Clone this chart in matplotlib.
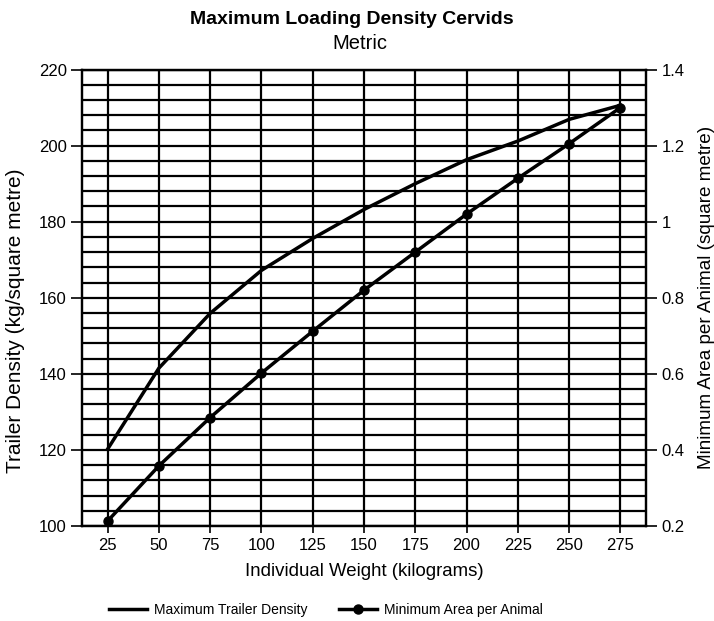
import matplotlib
matplotlib.use("Agg")
import matplotlib.pyplot as plt
from matplotlib.ticker import MultipleLocator

plt.rcParams['font.family'] = ['Liberation Sans', 'DejaVu Sans']

# data
weight = [25, 50, 75, 100, 125, 150, 175, 200, 225, 250, 275]
trailer_density = [120.2, 141.5, 155.9, 167.2, 175.6, 183.2, 190.0, 196.3, 201.2, 206.9, 210.6]
min_area = [0.213, 0.358, 0.485, 0.602, 0.712, 0.820, 0.920, 1.020, 1.114, 1.205, 1.300]
right_ticks = [0.2, 0.4, 0.6, 0.8, 1.0, 1.2, 1.4]
right_labels = ['0.2', '0.4', '0.6', '0.8', '1', '1.2', '1.4']

fig = plt.figure(figsize=(7.14, 6.21), dpi=100)
ax1 = fig.add_axes([0.1148, 0.153, 0.79, 0.735])
ax2 = ax1.twinx()

# GRID
ax1.set_xlim(12.5, 287.5)
ax1.set_ylim(100, 220)
ax2.set_ylim(0.2, 1.4)
ax1.set_xticks(weight)
ax1.yaxis.set_major_locator(MultipleLocator(20))
ax1.yaxis.set_minor_locator(MultipleLocator(4))
ax2.set_yticks(right_ticks)
ax2.set_yticklabels(right_labels)

ax1.grid(True, which='both', axis='y', color='black', linewidth=1.6)
ax1.grid(True, which='major', axis='x', color='black', linewidth=1.6)
ax1.set_axisbelow(True)

for ax in (ax1, ax2):
    for sp in ax.spines.values():
        sp.set_linewidth(1.6)
        sp.set_color('black')
ax1.tick_params(axis='y', which='major', length=8, width=1.2, labelsize=12, pad=3)
ax1.tick_params(axis='y', which='minor', length=0)
ax1.tick_params(axis='x', length=5, width=1.2, labelsize=12, pad=4)
ax2.tick_params(axis='y', length=8, width=1.2, labelsize=12, pad=3)

# LINES
l1, = ax1.plot(weight, trailer_density, color='black', linewidth=2.5,
               label='Maximum Trailer Density', zorder=5)
l2, = ax2.plot(weight, min_area, color='black', linewidth=2.5, marker='o',
               markersize=6.5, label='Minimum Area per Animal', zorder=5)

ax1.set_xlabel('Individual Weight (kilograms)', fontsize=13.4, labelpad=7)
ax1.set_ylabel('Trailer Density (kg/square metre)', fontsize=15)
ax1.yaxis.set_label_coords(-0.101, 0.45)
ax2.set_ylabel('Minimum Area per Animal (square metre)', fontsize=13.6,
               rotation=90, labelpad=10)

fig.text(0.4926, 0.9614, 'Maximum Loading Density Cervids', ha='center',
         va='baseline', fontsize=14, fontweight='bold')
fig.text(0.504, 0.9206, 'Metric', ha='center', va='baseline', fontsize=14.5)

fig.legend(handles=[l1, l2], loc='center', bbox_to_anchor=(0.456, 0.018),
           ncol=2, frameon=False, fontsize=10, handlelength=2.75,
           columnspacing=2.25, handletextpad=0.5)

fig.savefig('out.png', dpi=100)
